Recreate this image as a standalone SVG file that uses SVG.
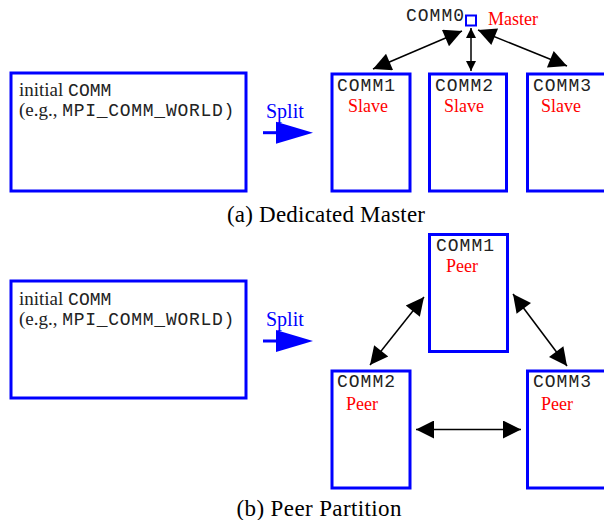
<svg xmlns="http://www.w3.org/2000/svg" width="604" height="520" viewBox="0 0 604 520">
<style>
.box{fill:#fff;stroke:#0000ff;stroke-width:3}
.serif{font-family:"Liberation Serif","Times New Roman",serif;fill:#222}
.mono{font-family:"Liberation Mono","Courier New",monospace;fill:#222;font-size:18px}
.lbl{font-family:"Liberation Serif","Times New Roman",serif;font-size:18px;fill:#ff0000}
.conn{stroke:#000;stroke-width:1.5;fill:none}
.split{font-family:"Liberation Serif","Times New Roman",serif;font-size:20px;fill:#0000ff}
.cap{font-family:"Liberation Serif","Times New Roman",serif;font-size:23px;fill:#000}
</style>
<defs>
<marker id="ah" viewBox="0 0 10 10" refX="10" refY="5" markerWidth="30" markerHeight="18" markerUnits="userSpaceOnUse" orient="auto-start-reverse"><path d="M0,0 L10,5 L0,10 z" fill="#000"/></marker>
<marker id="ahs" viewBox="0 0 10 10" refX="10" refY="5" markerWidth="15" markerHeight="10" markerUnits="userSpaceOnUse" orient="auto-start-reverse"><path d="M0,0 L10,5 L0,10 z" fill="#000"/></marker>
</defs>

<!-- (a) Dedicated Master -->
<g id="initA">
<rect class="box" x="11" y="73" width="235" height="118"/>
<text x="19" y="96" font-size="19"><tspan class="serif">initial </tspan><tspan class="mono">COMM</tspan></text>
<text x="19" y="116" font-size="19"><tspan class="serif">(e.g., </tspan><tspan class="mono" textLength="172" lengthAdjust="spacing">MPI_COMM_WORLD)</tspan></text>
</g>
<g id="splitA">
<text class="split" x="266" y="118">Split</text>
<line x1="263" y1="132.7" x2="280" y2="132.7" stroke="#0000ff" stroke-width="3"/>
<polygon points="276,121.7 313,132.7 276,143.7" fill="#0000ff"/>
</g>
<g id="master">
<rect x="466" y="15.5" width="10" height="10" fill="#fff" stroke="#0000ff" stroke-width="2"/>
<text class="mono" x="406" y="21" textLength="58" lengthAdjust="spacing">COMM0</text>
<text class="lbl" x="488" y="25">Master</text>
</g>
<g id="commA1">
<rect class="box" x="332" y="74" width="78" height="117"/>
<text class="mono" x="337" y="91" textLength="58" lengthAdjust="spacing">COMM1</text>
<text class="lbl" x="348" y="112">Slave</text>
</g>
<g id="commA2">
<rect class="box" x="429.5" y="74" width="77" height="117"/>
<text class="mono" x="435" y="91" textLength="58" lengthAdjust="spacing">COMM2</text>
<text class="lbl" x="444" y="112">Slave</text>
</g>
<g id="commA3">
<rect class="box" x="527.5" y="74" width="78" height="117"/>
<text class="mono" x="533" y="91" textLength="58" lengthAdjust="spacing">COMM3</text>
<text class="lbl" x="541" y="112">Slave</text>
</g>
<g id="connectorsA">
<line class="conn" x1="373" y1="69" x2="462" y2="31" marker-start="url(#ah)" marker-end="url(#ah)"/>
<line class="conn" x1="471" y1="28" x2="471" y2="71" marker-start="url(#ahs)" marker-end="url(#ahs)"/>
<line class="conn" x1="478" y1="30" x2="567" y2="66" marker-start="url(#ah)" marker-end="url(#ah)"/>
</g>
<text class="cap" x="326" y="222" text-anchor="middle" textLength="198" lengthAdjust="spacing">(a) Dedicated Master</text>

<!-- (b) Peer Partition -->
<g id="initB">
<rect class="box" x="11" y="281" width="235" height="117"/>
<text x="19" y="305" font-size="19"><tspan class="serif">initial </tspan><tspan class="mono">COMM</tspan></text>
<text x="19" y="325" font-size="19"><tspan class="serif">(e.g., </tspan><tspan class="mono" textLength="172" lengthAdjust="spacing">MPI_COMM_WORLD)</tspan></text>
</g>
<g id="splitB">
<text class="split" x="266" y="326">Split</text>
<line x1="263" y1="341" x2="280" y2="341" stroke="#0000ff" stroke-width="3"/>
<polygon points="276,330 313,341 276,352" fill="#0000ff"/>
</g>
<g id="commB1">
<rect class="box" x="429.5" y="234.5" width="78" height="117"/>
<text class="mono" x="436" y="251" textLength="58" lengthAdjust="spacing">COMM1</text>
<text class="lbl" x="446" y="272">Peer</text>
</g>
<g id="commB2">
<rect class="box" x="332" y="371" width="78" height="117"/>
<text class="mono" x="337" y="387" textLength="58" lengthAdjust="spacing">COMM2</text>
<text class="lbl" x="346" y="410">Peer</text>
</g>
<g id="commB3">
<rect class="box" x="527.5" y="371" width="78" height="117"/>
<text class="mono" x="533" y="387" textLength="58" lengthAdjust="spacing">COMM3</text>
<text class="lbl" x="541" y="410">Peer</text>
</g>
<g id="connectorsB">
<line class="conn" x1="370" y1="365" x2="424" y2="297" marker-start="url(#ah)" marker-end="url(#ah)"/>
<line class="conn" x1="513" y1="294" x2="567" y2="366" marker-start="url(#ah)" marker-end="url(#ah)"/>
<line class="conn" x1="416" y1="429.5" x2="521" y2="429.5" marker-start="url(#ah)" marker-end="url(#ah)"/>
</g>
<text class="cap" x="319" y="516" text-anchor="middle" textLength="165" lengthAdjust="spacing">(b) Peer Partition</text>
</svg>
